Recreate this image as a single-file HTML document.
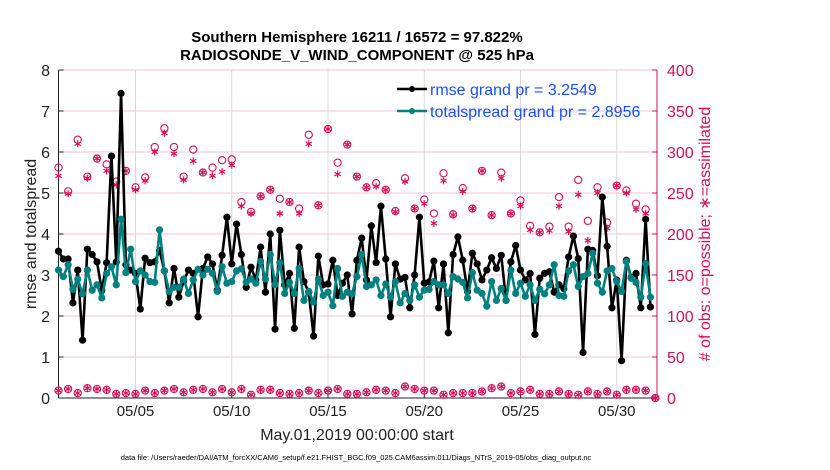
<!DOCTYPE html>
<html><head><meta charset="utf-8"><style>
html,body{margin:0;padding:0;background:#fff;}
svg{display:block;font-family:"Liberation Sans",Arial,sans-serif;}
</style></head><body>
<svg id="chart" width="830" height="470" viewBox="0 0 830 470"></svg>
<script>
const rmse=[3.58,3.39,3.39,2.32,3.12,1.41,3.63,3.5,3.32,2.62,3.3,5.9,3.32,7.43,3.25,3.12,3.04,2.17,3.41,3.3,3.32,3.6,3.1,2.32,3.16,2.46,2.85,3.12,3.04,1.98,3.16,3.44,3.27,2.63,3.48,4.41,3.27,4.24,3.5,2.7,3.19,2.88,3.68,2.58,
4.0,1.68,4.09,2.76,3.04,1.7,3.68,2.84,2.58,1.51,3.46,2.76,2.78,3.36,2.5,2.8,3.0,2.05,3.36,3.9,2.88,4.2,3.3,4.68,3.39,1.98,3.27,2.9,2.94,2.2,3.0,4.41,2.8,2.83,3.34,2.2,3.27,1.59,3.5,3.93,3.36,
2.6,3.53,3.27,2.88,3.12,3.42,3.16,3.48,2.38,3.32,3.72,3.12,2.88,3.04,1.55,2.92,3.04,3.08,2.58,2.76,2.67,3.44,3.95,3.4,1.11,3.63,3.6,2.98,4.9,3.7,2.2,2.88,0.91,3.36,2.94,3.04,2.2,4.36,2.22];
const spread=[3.12,2.96,3.25,2.65,2.9,2.54,3.12,2.63,2.76,2.44,3.04,3.2,2.76,4.36,3.06,3.63,2.84,3.1,3.0,2.84,2.82,4.1,3.1,2.6,2.7,2.7,2.9,2.55,2.88,3.14,3.0,3.14,3.04,2.6,3.2,2.8,2.84,3.1,3.15,2.82,2.9,2.8,3.33,2.9,
3.5,2.77,3.3,2.55,2.82,2.55,3.16,2.38,2.6,2.34,2.9,2.5,2.58,2.25,3.16,2.48,2.58,2.54,2.96,3.5,2.72,2.76,2.88,2.5,2.78,2.46,2.84,2.32,2.55,2.38,2.76,2.46,2.63,2.65,2.84,2.76,2.76,2.55,2.96,2.9,2.82,
2.44,3.06,2.63,2.55,2.24,2.84,2.38,2.67,2.38,3.12,2.55,2.8,2.48,2.76,2.38,2.65,2.54,2.76,3.25,2.5,2.48,3.1,3.25,2.72,2.96,3.04,3.53,2.8,2.58,3.1,3.16,2.84,2.6,3.33,2.92,2.82,2.46,3.28,2.46];
const obsPossible=[281,252,315,270,292,285,264,277,257,269,306,329,306,270,303,275,281,290,291,239,227,246,
254,243,239,231,321,235,328,287,309,270,257,262,254,228,268,231,242,225,274,224,256,
231,277,223,275,225,241,210,202,209,245,209,266,216,257,214,259,253,237,230,0];
const obsAssim=[271,249,310,268,292,277,260,277,254,265,300,323,298,266,289,275,271,276,284,234,225,246,
254,225,239,225,310,235,328,273,309,270,257,258,254,227,264,231,237,213,265,223,252,
231,277,223,268,225,234,205,202,204,234,203,248,192,250,207,259,250,230,225,0];
const obsLow=[9,11,6,12,11,10,5,6,5,9,6,9,11,7,10,11,7,11,7,11,4,10,
10,6,5,6,9,6,9,11,5,5,7,10,9,6,14,11,9,9,4,6,6,
6,8,12,14,6,8,10,5,5,8,5,4,8,5,8,4,10,10,9,0];
const yTicksL=[0,1,2,3,4,5,6,7,8];
const yTicksR=[0,50,100,150,200,250,300,350,400];
const xTickDays=[4,9,14,19,24,29];
const xTickLabels=["05/05","05/10","05/15","05/20","05/25","05/30"];

const NS="http://www.w3.org/2000/svg";
const svg=document.getElementById('chart');
const X0=58.5,PX_DAY=19.25,XR=657,YB=398,YT=70;
function xs(d){return X0+d*PX_DAY;}
function yl(v){return YB-(v/8)*(YB-YT);}
function yr(v){return YB-(v/400)*(YB-YT);}
function mk(tag,attrs,parent){const e=document.createElementNS(NS,tag);for(const k in attrs)e.setAttribute(k,attrs[k]);(parent||svg).appendChild(e);return e;}
const PINK="#d6105a",TEAL="#00807f",BLUE="#1a4fff";

// grid
yTicksR.forEach(v=>{const l=mk('line',{x1:X0,x2:XR,y1:yr(v),y2:yr(v),stroke:'#f3c6d8','stroke-width':1});

});
xTickDays.forEach(d=>{const l=mk('line',{x1:xs(d),x2:xs(d),y1:YT,y2:YB,stroke:'#d8d8d8','stroke-width':1});

});

// axes
let a=mk('line',{x1:X0,x2:X0,y1:YT,y2:YB,stroke:'#222','stroke-width':1});


a=mk('line',{x1:X0,x2:XR,y1:YB,y2:YB,stroke:'#222','stroke-width':1});


a=mk('line',{x1:XR,x2:XR,y1:YT,y2:YB,stroke:PINK,'stroke-width':1});



yTicksL.forEach(v=>{
  mk('line',{x1:X0,x2:X0+5,y1:yl(v),y2:yl(v),stroke:'#222'});
  const t=mk('text',{x:50,y:yl(v)+6,'text-anchor':'end','font-size':16,fill:'#222'});t.textContent=v;
  
  
});
yTicksR.forEach(v=>{
  mk('line',{x1:XR-5,x2:XR,y1:yr(v),y2:yr(v),stroke:PINK});
  const t=mk('text',{x:667,y:yr(v)+6,'font-size':16,fill:PINK});t.textContent=v;
  
  
});
xTickDays.forEach((d,i)=>{
  mk('line',{x1:xs(d),x2:xs(d),y1:YB-5,y2:YB,stroke:'#222'});
  const t=mk('text',{x:xs(d),y:416,'text-anchor':'middle','font-size':15,fill:'#222'});t.textContent=xTickLabels[i];
  
  
});

// obs markers
function star(cx,cy,g){const r=3.6;for(let k=0;k<3;k++){const an=Math.PI/3*k+Math.PI/2;mk('line',{x1:cx-r*Math.cos(an),y1:cy-r*Math.sin(an),x2:cx+r*Math.cos(an),y2:cy+r*Math.sin(an),stroke:PINK,'stroke-width':1.2},g);}}
const gObs=mk('g',{});


obsPossible.forEach((v,i)=>{const c=mk('circle',{cx:xs(i*0.5),cy:yr(v),r:3.6,fill:'none',stroke:PINK,'stroke-width':1.1},gObs);

});
obsAssim.forEach((v,i)=>star(xs(i*0.5),yr(v),gObs));
obsLow.forEach((v,i)=>{const c=mk('circle',{cx:xs(i*0.5),cy:yr(v),r:3.6,fill:'none',stroke:PINK,'stroke-width':1.1},gObs);


star(xs(i*0.5),yr(v),gObs);});

function series(vals,color,name,r,w){
  const g=mk('g',{});
  
  
  mk('polyline',{points:vals.map((v,i)=>xs(i*0.25)+','+yl(v)).join(' '),fill:'none',stroke:color,'stroke-width':w,'stroke-linejoin':'round'},g);
  vals.forEach((v,i)=>{const c=mk('circle',{cx:xs(i*0.25),cy:yl(v),r:r,fill:color},g);
  
  });
}
series(rmse,'#000','rmse-line',3.6,2.6);
series(spread,TEAL,'totalspread-line',3.6,2.6);

// legend
const lg=mk('g',{});


[['#000','rmse grand pr = 3.2549',89],[TEAL,'totalspread grand pr = 2.8956',111]].forEach(([c,txt,y])=>{
  mk('line',{x1:397,x2:427,y1:y,y2:y,stroke:c,'stroke-width':2.4},lg);
  mk('circle',{cx:412,cy:y,r:3,fill:c},lg);
  const t=mk('text',{x:430,y:y+6,'font-size':16,fill:BLUE},lg);t.textContent=txt;
  
  
});
</script>
<svg style="position:absolute;left:0;top:0" width="830" height="470">
<text x="357" y="42" text-anchor="middle" font-size="15" font-weight="bold" fill="#000">Southern Hemisphere 16211 / 16572 = 97.822%</text>
<text x="357" y="60" text-anchor="middle" font-size="15" font-weight="bold" fill="#000">RADIOSONDE_V_WIND_COMPONENT @ 525 hPa</text>
<text transform="translate(36,234) rotate(-90)" text-anchor="middle" font-size="16" fill="#222">rmse and totalspread</text>
<text transform="translate(710,234) rotate(-90)" text-anchor="middle" font-size="16" fill="#d6105a"># of obs: o=possible; ∗=assimilated</text>
<text x="357" y="440" text-anchor="middle" font-size="16" fill="#222">May.01,2019 00:00:00 start</text>
<text x="356" y="460" text-anchor="middle" font-size="7.5" fill="#000">data file: /Users/raeder/DAI/ATM_forcXX/CAM6_setup/f.e21.FHIST_BGC.f09_025.CAM6assim.011/Diags_NTrS_2019-05/obs_diag_output.nc</text>
</svg>
</body></html>
